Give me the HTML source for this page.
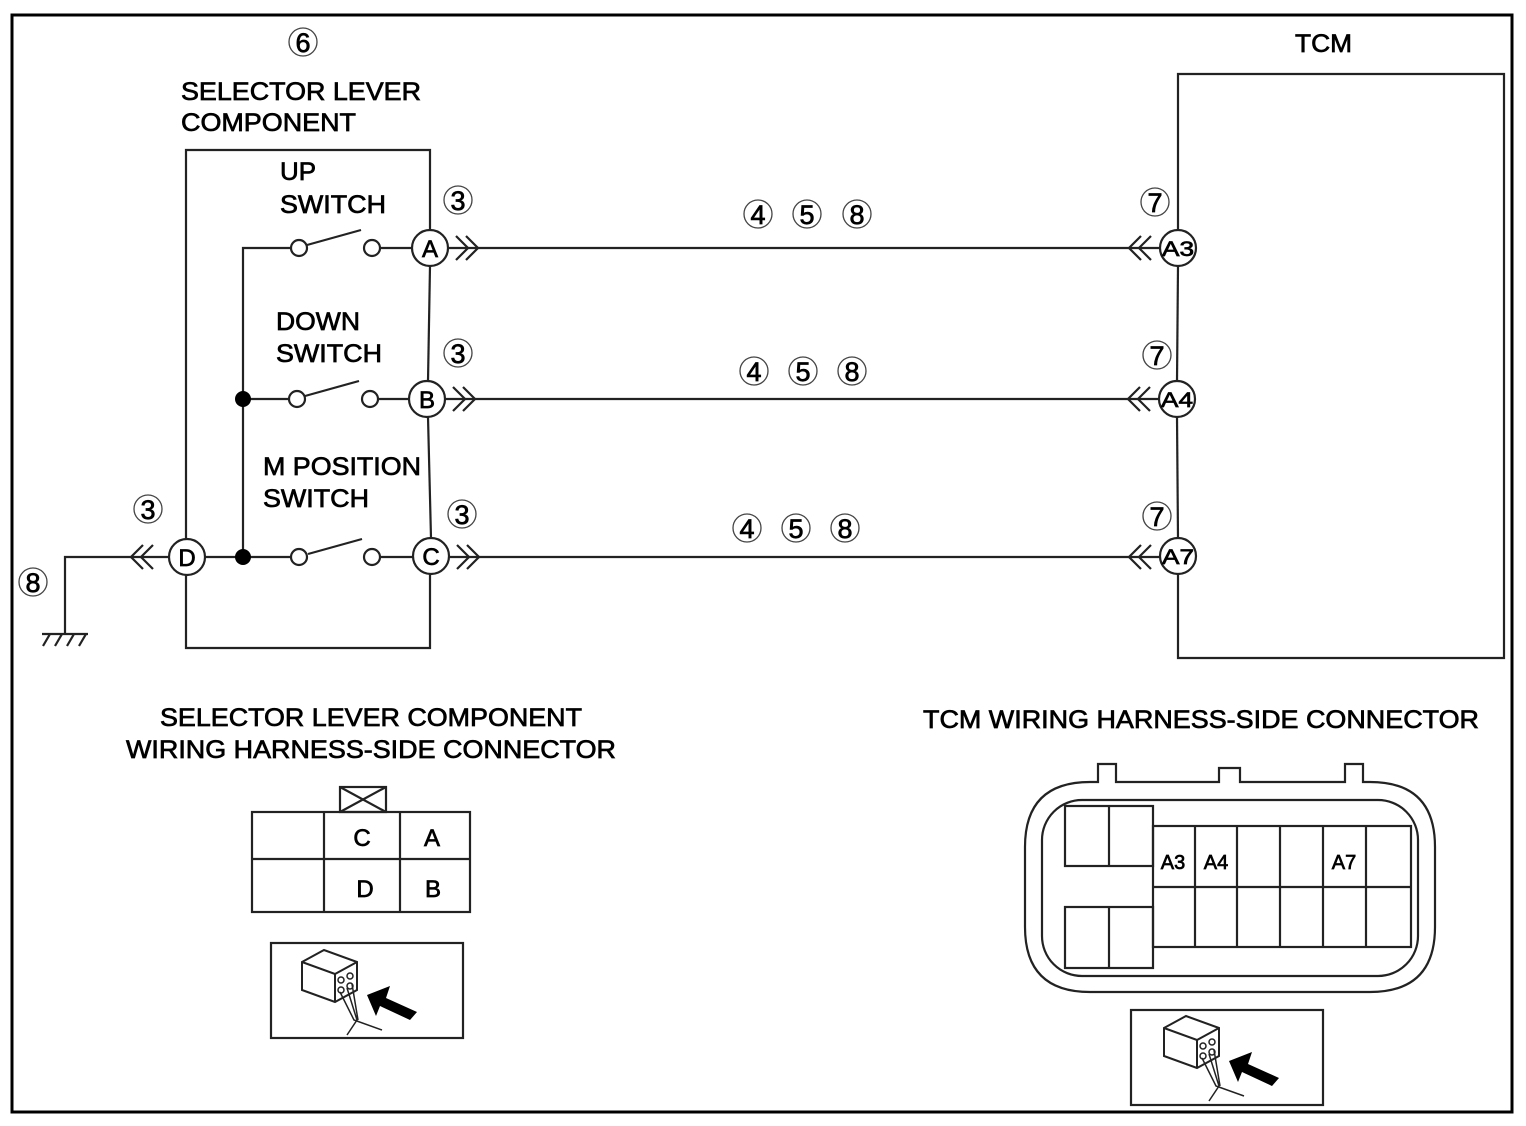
<!DOCTYPE html>
<html><head><meta charset="utf-8"><style>
html,body{margin:0;padding:0;background:#fff}
svg{display:block}
text{font-family:"Liberation Sans",Arial,sans-serif;fill:#000;stroke:#000;stroke-width:0.7}
</style></head><body>
<svg width="1526" height="1126" viewBox="0 0 1526 1126" xmlns="http://www.w3.org/2000/svg">
<rect x="0" y="0" width="1526" height="1126" fill="#fff"/>
<rect x="12" y="15" width="1500" height="1097" fill="none" stroke="#000" stroke-width="3"/>

<g stroke="#222" stroke-width="2.2" fill="none">
<polyline points="430,230 430,150 186,150 186,539"/>
<polyline points="186,575 186,648 430,648 430,574"/>
<line x1="430" y1="266" x2="428" y2="381"/>
<line x1="428" y1="417" x2="431" y2="538"/>
<polyline points="291,248 243,248 243,557"/>
<line x1="205" y1="557" x2="291" y2="557"/>
<line x1="243" y1="399" x2="289" y2="399"/>
<line x1="380" y1="248" x2="412" y2="248"/>
<line x1="378" y1="399" x2="409" y2="399"/>
<line x1="380" y1="557" x2="413" y2="557"/>
<line x1="307" y1="245" x2="361" y2="230"/>
<line x1="305" y1="396" x2="359" y2="381"/>
<line x1="308" y1="554" x2="362" y2="539"/>
<line x1="448" y1="248" x2="1160" y2="248"/>
<line x1="445" y1="399" x2="1159" y2="399"/>
<line x1="449" y1="557" x2="1160" y2="557"/>
<polyline points="456,236 468,248 456,260"/><polyline points="466,236 478,248 466,260"/>
<polyline points="453,387 465,399 453,411"/><polyline points="463,387 475,399 463,411"/>
<polyline points="457,545 469,557 457,569"/><polyline points="467,545 479,557 467,569"/>
<polyline points="1141,236 1129,248 1141,260"/><polyline points="1151,236 1139,248 1151,260"/>
<polyline points="1140,387 1128,399 1140,411"/><polyline points="1150,387 1138,399 1150,411"/>
<polyline points="1141,545 1129,557 1141,569"/><polyline points="1151,545 1139,557 1151,569"/>
<polyline points="143,545 131,557 143,569"/><polyline points="153,545 141,557 153,569"/>
<polyline points="169,557 65,557 65,634"/>
<line x1="42" y1="634" x2="88" y2="634"/>
<line x1="50" y1="634" x2="43" y2="646"/><line x1="62" y1="634" x2="55" y2="646"/><line x1="74" y1="634" x2="67" y2="646"/><line x1="86" y1="634" x2="79" y2="646"/>
<polyline points="1178,230 1178,74 1504,74 1504,658 1178,658 1178,575"/>
<line x1="1178" y1="266" x2="1177" y2="381"/>
<line x1="1177" y1="417" x2="1178" y2="538"/>
</g>
<g stroke="#222" stroke-width="2.2" fill="#fff">
<circle cx="299" cy="248" r="8"/><circle cx="372" cy="248" r="8"/>
<circle cx="297" cy="399" r="8"/><circle cx="370" cy="399" r="8"/>
<circle cx="299" cy="557" r="8"/><circle cx="372" cy="557" r="8"/>
<circle cx="430" cy="248" r="18"/><circle cx="427" cy="399" r="18"/><circle cx="431" cy="556" r="18"/>
<circle cx="187" cy="557" r="18"/>
<circle cx="1178" cy="248" r="18"/><circle cx="1177" cy="399" r="18"/><circle cx="1178" cy="556" r="18"/>
</g>
<circle cx="243" cy="399" r="8" fill="#000"/><circle cx="243" cy="557" r="8" fill="#000"/>
<g font-size="24" text-anchor="middle">
<text x="430" y="257">A</text><text x="427" y="408">B</text><text x="431" y="565">C</text><text x="187" y="566">D</text>
<text x="1178" y="256" font-size="21" textLength="32" lengthAdjust="spacingAndGlyphs">A3</text><text x="1177" y="407" font-size="21" textLength="32" lengthAdjust="spacingAndGlyphs">A4</text><text x="1178" y="564" font-size="21" textLength="32" lengthAdjust="spacingAndGlyphs">A7</text>
</g>

<g stroke="#444" stroke-width="1.3" fill="none">
<circle cx="303" cy="42" r="14"/>
<circle cx="458" cy="200" r="14"/><circle cx="458" cy="353" r="14"/><circle cx="462" cy="514" r="14"/><circle cx="148" cy="509" r="14"/>
<circle cx="1155" cy="202" r="14"/><circle cx="1157" cy="355" r="14"/><circle cx="1157" cy="516" r="14"/>
<circle cx="33" cy="582" r="14"/>
<circle cx="758" cy="214" r="14"/><circle cx="807" cy="214" r="14"/><circle cx="857" cy="214" r="14"/>
<circle cx="754" cy="371" r="14"/><circle cx="803" cy="371" r="14"/><circle cx="852" cy="371" r="14"/>
<circle cx="747" cy="528" r="14"/><circle cx="796" cy="528" r="14"/><circle cx="845" cy="528" r="14"/>
</g>
<g font-size="27" text-anchor="middle">
<text x="303" y="52">6</text>
<text x="458" y="210">3</text><text x="458" y="363">3</text><text x="462" y="524">3</text><text x="148" y="519">3</text>
<text x="1155" y="212">7</text><text x="1157" y="365">7</text><text x="1157" y="526">7</text>
<text x="33" y="592">8</text>
<text x="758" y="224">4</text><text x="807" y="224">5</text><text x="857" y="224">8</text>
<text x="754" y="381">4</text><text x="803" y="381">5</text><text x="852" y="381">8</text>
<text x="747" y="538">4</text><text x="796" y="538">5</text><text x="845" y="538">8</text>
</g>

<g font-size="25">
<text x="181" y="100" textLength="240" lengthAdjust="spacingAndGlyphs">SELECTOR LEVER</text>
<text x="181" y="131" textLength="175" lengthAdjust="spacingAndGlyphs">COMPONENT</text>
<text x="1295" y="52" textLength="57" lengthAdjust="spacingAndGlyphs">TCM</text>
<text x="280" y="180" textLength="36" lengthAdjust="spacingAndGlyphs">UP</text>
<text x="280" y="213" textLength="106" lengthAdjust="spacingAndGlyphs">SWITCH</text>
<text x="276" y="330" textLength="84" lengthAdjust="spacingAndGlyphs">DOWN</text>
<text x="276" y="362" textLength="106" lengthAdjust="spacingAndGlyphs">SWITCH</text>
<text x="263" y="475" textLength="158" lengthAdjust="spacingAndGlyphs">M POSITION</text>
<text x="263" y="507" textLength="106" lengthAdjust="spacingAndGlyphs">SWITCH</text>
<text x="160" y="726" textLength="422" lengthAdjust="spacingAndGlyphs">SELECTOR LEVER COMPONENT</text>
<text x="126" y="758" textLength="490" lengthAdjust="spacingAndGlyphs">WIRING HARNESS-SIDE CONNECTOR</text>
<text x="923" y="728" textLength="556" lengthAdjust="spacingAndGlyphs">TCM WIRING HARNESS-SIDE CONNECTOR</text>
</g>

<g stroke="#222" stroke-width="2.2" fill="none">
<rect x="252" y="812" width="218" height="100"/>
<line x1="324" y1="812" x2="324" y2="912"/><line x1="400" y1="812" x2="400" y2="912"/>
<line x1="252" y1="859" x2="470" y2="859"/>
<rect x="340" y="787" width="46" height="25"/>
<line x1="340" y1="787" x2="386" y2="812"/><line x1="386" y1="787" x2="340" y2="812"/>
<rect x="271" y="943" width="192" height="95"/>
<rect x="1131" y="1010" width="192" height="95"/>
</g>
<g font-size="24" text-anchor="middle">
<text x="362" y="846">C</text><text x="432" y="846">A</text><text x="365" y="897">D</text><text x="433" y="897">B</text>
</g>

<g stroke="#222" stroke-width="2.2" fill="none">
<path d="M1098,782 L1098,764 L1116,764 L1116,782 L1219,782 L1219,768 L1240,768 L1240,782 L1345,782 L1345,764 L1363,764 L1363,782 L1370,782 Q1435,782 1435,847 L1435,927 Q1435,992 1370,992 L1090,992 Q1025,992 1025,927 L1025,847 Q1025,782 1090,782 Z"/>
<rect x="1042" y="800" width="376" height="176" rx="40"/>
<rect x="1065" y="806" width="88" height="60"/><line x1="1109" y1="806" x2="1109" y2="866"/>
<rect x="1065" y="907" width="88" height="61"/><line x1="1109" y1="907" x2="1109" y2="968"/>
<rect x="1153" y="826" width="258" height="121"/>
<line x1="1153" y1="887" x2="1411" y2="887"/>
<line x1="1195" y1="826" x2="1195" y2="947"/><line x1="1237" y1="826" x2="1237" y2="947"/>
<line x1="1280" y1="826" x2="1280" y2="947"/><line x1="1323" y1="826" x2="1323" y2="947"/>
<line x1="1366" y1="826" x2="1366" y2="947"/>
</g>
<g font-size="20" text-anchor="middle">
<text x="1173" y="869">A3</text><text x="1216" y="869">A4</text><text x="1344" y="869">A7</text>
</g>

<defs>
<g id="ic">
<path d="M0,12 L22,0 L55,12 L55,40 L33,52 L0,40 Z" fill="#fff" stroke="#222" stroke-width="2"/>
<path d="M0,12 L33,24 L55,12 M33,24 L33,52" fill="none" stroke="#222" stroke-width="2"/>
<circle cx="39" cy="30" r="3" fill="none" stroke="#222" stroke-width="1.5"/><circle cx="48" cy="26" r="3" fill="none" stroke="#222" stroke-width="1.5"/>
<circle cx="39" cy="40" r="3" fill="none" stroke="#222" stroke-width="1.5"/><circle cx="48" cy="36" r="3" fill="none" stroke="#222" stroke-width="1.5"/>
<path d="M38,42 L52,70 L80,80 M45,38 L55,70 L45,85 M50,34 L56,70" fill="none" stroke="#222" stroke-width="1.5"/>
<path d="M65,45 L88,36 L84,48 L115,62 L108,70 L78,56 L74,66 Z" fill="#000"/>
</g>
</defs>
<use href="#ic" x="302" y="950"/>
<use href="#ic" x="1164" y="1016"/>
</svg>
</body></html>
